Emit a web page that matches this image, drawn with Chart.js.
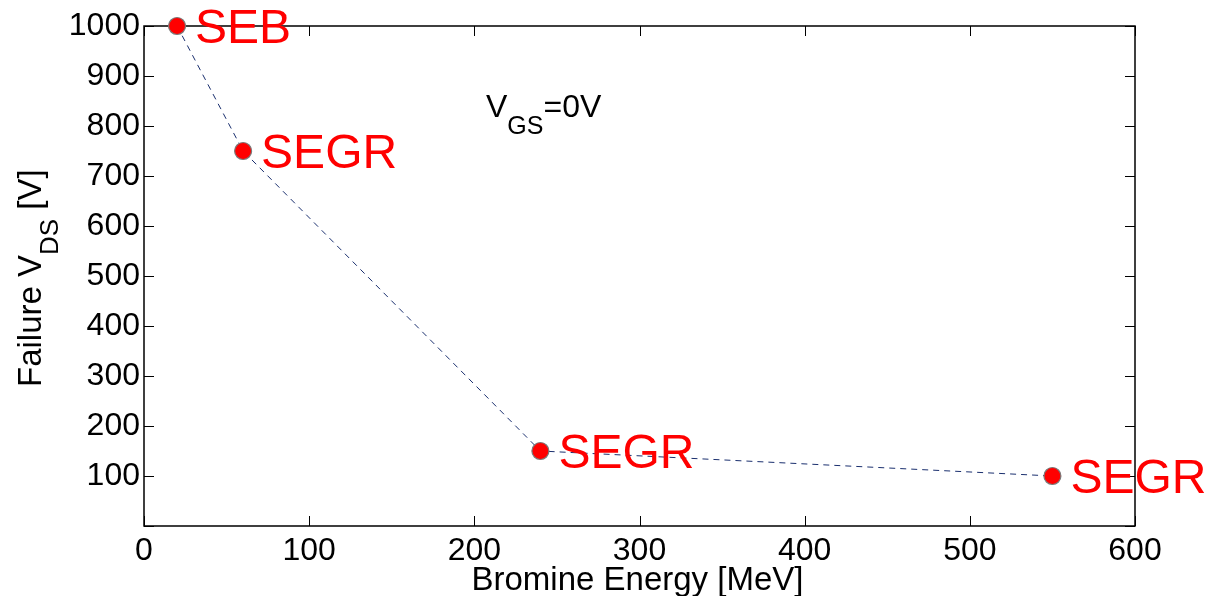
<!DOCTYPE html>
<html lang="en">
<head>
    <meta charset="UTF-8">
    <title>Failure VDS vs Bromine Energy</title>
    <script src="https://cdn.jsdelivr.net/npm/chart.js"></script>
    <style>
        html, body { margin: 0; padding: 0; background: #fff; }
        canvas { display: block; }
    </style>
</head>
<body>
<canvas id="failureChart" width="1211" height="596"></canvas>

<script>
    // measured failure points
    const energyMeV = [20, 60, 240, 550];
    const failureVds = [1000, 750, 150, 100];
    const failureMode = ['SEB', 'SEGR', 'SEGR', 'SEGR'];

    const xRange = [0, 600];
    const yRange = [0, 1000];
    const xStep = 100;
    const yStep = 100;

    const FONT = '"Liberation Sans", Arial, sans-serif';
    const TICK_LEN = 10;

    // draws text with a subscript piece: parts = [[text, isSub], ...]
    function drawSubText(c, parts, x, y, size, subSize, subDrop) {
        let cx = x;
        parts.forEach(([txt, sub]) => {
            c.font = (sub ? subSize : size) + 'px ' + FONT;
            c.fillText(txt, cx, sub ? y + subDrop : y);
            cx += c.measureText(txt).width;
        });
        return cx - x;
    }

    const matlabFrame = {
        id: 'matlabFrame',
        beforeDatasetsDraw(chart) {
            const {ctx: c, chartArea: a, scales: {x, y}} = chart;
            c.save();
            c.strokeStyle = '#000';
            c.lineWidth = 1.5;
            c.beginPath();
            c.rect(a.left, a.top, a.right - a.left, a.bottom - a.top);
            c.stroke();

            // inward ticks on all four sides
            c.lineWidth = 1;
            c.beginPath();
            x.ticks.forEach(t => {
                const px = Math.round(x.getPixelForValue(t.value)) + 0.5;
                c.moveTo(px, a.bottom); c.lineTo(px, a.bottom - TICK_LEN);
                c.moveTo(px, a.top); c.lineTo(px, a.top + TICK_LEN);
            });
            y.ticks.forEach(t => {
                const py = Math.round(y.getPixelForValue(t.value)) + 0.5;
                c.moveTo(a.left, py); c.lineTo(a.left + TICK_LEN, py);
                c.moveTo(a.right, py); c.lineTo(a.right - TICK_LEN, py);
            });
            c.stroke();
            c.restore();
        },
        afterDatasetsDraw(chart) {
            const {ctx: c, chartArea: a, scales: {x, y}} = chart;
            c.save();
            c.fillStyle = '#ff0000';
            c.textAlign = 'left';
            c.textBaseline = 'alphabetic';
            c.font = '48px ' + FONT;
            energyMeV.forEach((e, i) => {
                const px = x.getPixelForValue(e);
                const py = y.getPixelForValue(failureVds[i]);
                c.fillText(failureMode[i], px + 18, py + 17);
            });

            // gate bias note
            c.fillStyle = '#000';
            drawSubText(c, [['V', false], ['GS', true], ['=0V', false]], 486, 117, 32, 25, 17);

            // axis titles
            c.font = '33px ' + FONT;
            c.textAlign = 'center';
            c.fillText('Bromine Energy [MeV]', (a.left + a.right) / 2 - 2, 590);

            c.textAlign = 'left';
            c.translate(41, 387);
            c.rotate(-Math.PI / 2);
            drawSubText(c, [['Failure V', false], ['DS', true], [' [V]', false]], 0, 0, 33, 26, 17);
            c.restore();
        }
    };

    const ctx = document.getElementById('failureChart').getContext('2d');

    new Chart(ctx, {
        type: 'scatter',
        data: {
            datasets: [{
                data: energyMeV.map((e, i) => ({x: e, y: failureVds[i]})),
                showLine: true,
                borderColor: '#1a2f6e',
                borderWidth: 1,
                borderDash: [6, 5],
                pointBackgroundColor: '#ff0000',
                pointBorderColor: '#7a7a7a',
                pointBorderWidth: 1.2,
                pointRadius: 8.5,
                clip: false
            }]
        },
        options: {
            responsive: false,
            devicePixelRatio: 1,
            animation: false,
            events: [],
            layout: {padding: {top: 26, right: 76, left: 0, bottom: 0}},
            plugins: {
                legend: {display: false},
                tooltip: {enabled: false}
            },
            scales: {
                x: {
                    type: 'linear',
                    min: xRange[0],
                    max: xRange[1],
                    grid: {display: false, drawTicks: false},
                    border: {display: false},
                    ticks: {
                        stepSize: xStep,
                        color: '#000',
                        padding: 6,
                        maxRotation: 0,
                        font: {family: FONT, size: 32}
                    },
                    afterFit(s) { s.height = 70; }
                },
                y: {
                    type: 'linear',
                    min: yRange[0],
                    max: yRange[1],
                    grid: {display: false, drawTicks: false},
                    border: {display: false},
                    ticks: {
                        stepSize: yStep,
                        color: '#000',
                        padding: 4,
                        font: {family: FONT, size: 32},
                        callback: v => v === 0 ? '' : v
                    },
                    afterFit(s) { s.width = 144; }
                }
            }
        },
        plugins: [matlabFrame]
    });
</script>
</body>
</html>
